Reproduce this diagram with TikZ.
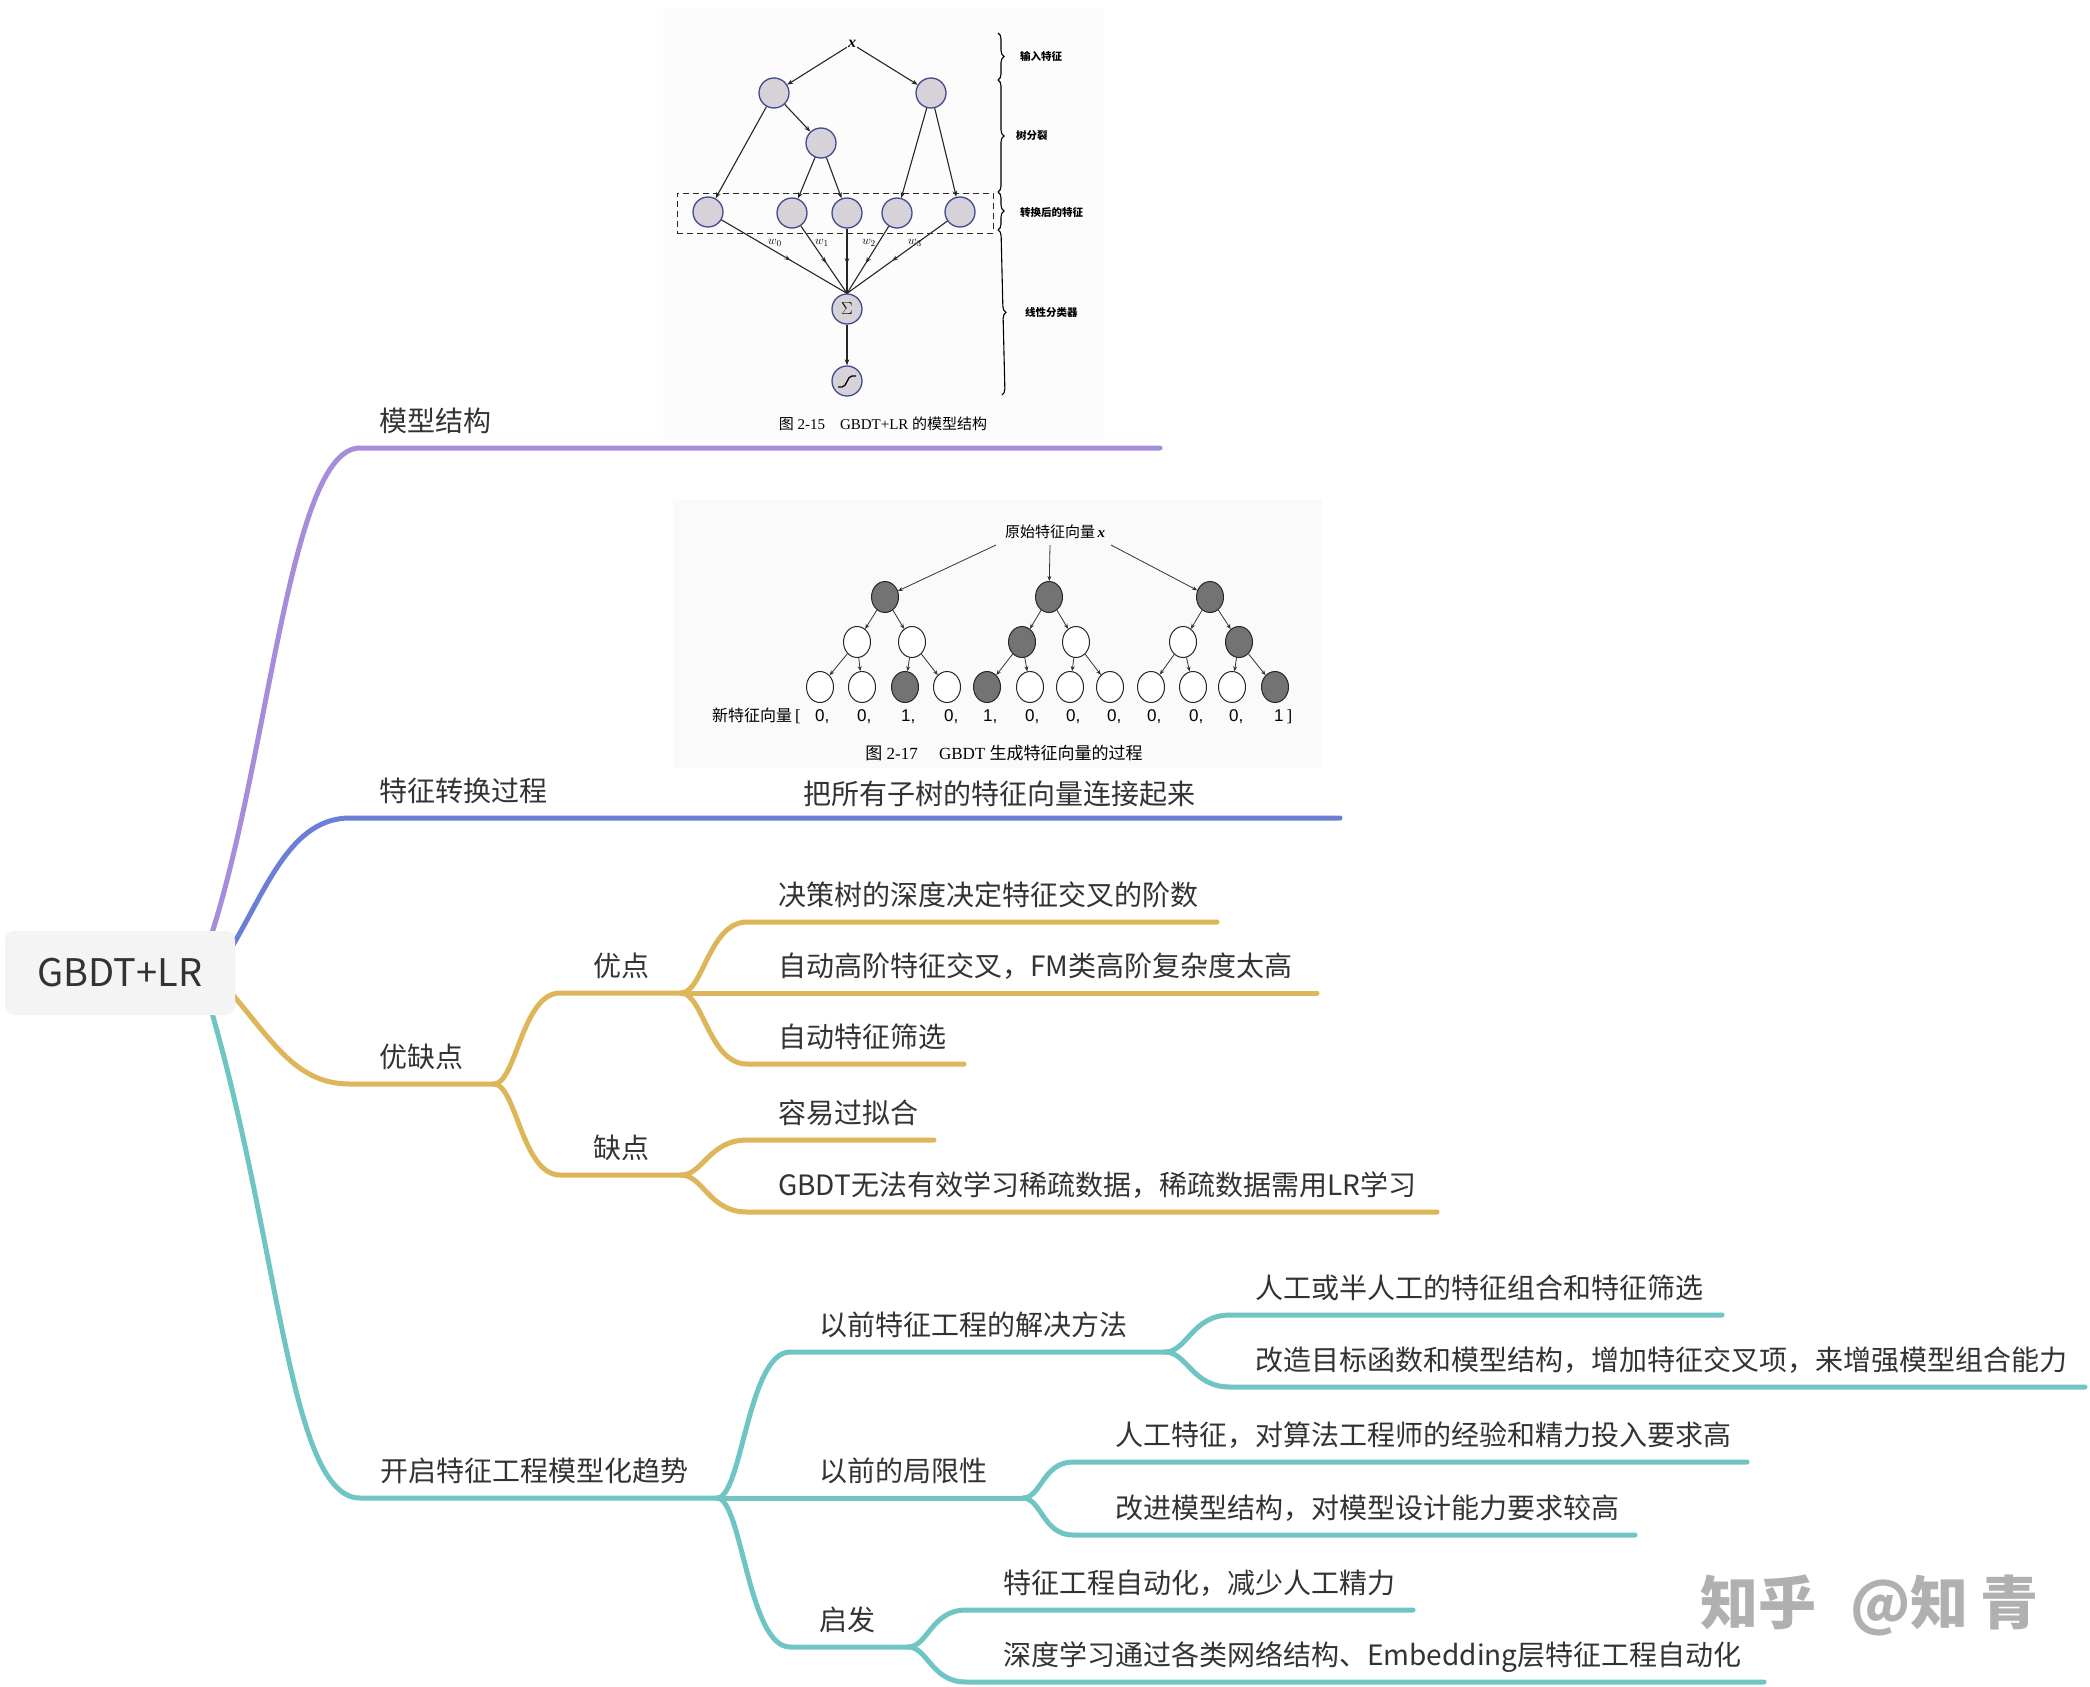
\documentclass[tikz,border=0pt]{standalone}
\usepackage{fontspec}
\setmainfont{Liberation Serif}
\newfontfamily\cjk{Noto Sans CJK SC}
\newfontfamily\arialf{Liberation Sans}
\usetikzlibrary{arrows.meta,decorations.markings,decorations.pathreplacing,shapes.geometric}
\definecolor{cPur}{HTML}{A68CDB}
\definecolor{cBlu}{HTML}{6B7FD6}
\definecolor{cYel}{HTML}{DEB65A}
\definecolor{cTea}{HTML}{6EC5C4}
\definecolor{txt}{HTML}{333333}
\definecolor{rootfill}{HTML}{F4F4F5}
\definecolor{fnb}{HTML}{3F4C8F}
\definecolor{fnf}{HTML}{D6D2D7}
\definecolor{figbgA}{HTML}{FCFCFC}
\definecolor{figbgB}{HTML}{FAFAFA}
\definecolor{wmc}{HTML}{B0B0B0}
\newcommand\myfs[1]{\fontsize{#1}{#1}\selectfont}
\begin{document}
\begin{tikzpicture}[x=1pt,y=-1pt,
  br/.style={line width=5pt, line cap=round, line join=round},
  cP/.style={br, draw=cPur}, cB/.style={br, draw=cBlu},
  cY/.style={br, draw=cYel}, cT/.style={br, draw=cTea},
  topic/.style={anchor=base west, inner sep=0pt, text=txt, font=\cjk\myfs{28}},
  fnode/.style={circle, minimum size=30pt, inner sep=0pt, draw=fnb, fill=fnf, line width=1.3pt},
  farr/.style={-{Stealth[length=6pt,width=4.5pt]}, line width=1.1pt, draw=black!85},
  fmid/.style={line width=1.1pt, draw=black!85, postaction={decorate},
    decoration={markings, mark=at position 0.55 with {\arrow{Stealth[length=6pt,width=4.5pt]}}}},
  fbrace/.style={decorate, decoration={brace, amplitude=6pt}, line width=1.1pt},
  flab/.style={anchor=west, inner sep=0pt, font=\cjk\bfseries\myfs{10.5}},
  tnode/.style={ellipse, minimum width=27pt, minimum height=31pt, inner sep=0pt, draw=black!85, line width=1pt, fill=white},
  tdark/.style={tnode, fill=black!55},
  tarr/.style={-{Stealth[length=5pt,width=4pt]}, line width=0.8pt, draw=black!80},
  vnum/.style={anchor=base west, inner sep=0pt, font=\arialf\myfs{17}},
]
\useasboundingbox (0,0) rectangle (2090,1686);
\fill[white] (0,0) rectangle (2090,1686);
% figure backgrounds (scanned images)
\fill[figbgA] (663,8) rectangle (1103,442);
\fill[figbgB] (673,500) rectangle (1322,768);

% ---------- mind map branches ----------
\coordinate (rP) at (212,933);
\coordinate (rB) at (233,945);
\coordinate (rY) at (233,995);
\coordinate (rT) at (212,1013);
\coordinate (p1a) at (360,448); \coordinate (p1b) at (1160,448);
\coordinate (b1a) at (350,818); \coordinate (b1b) at (1340,818);
\coordinate (y1a) at (350,1084); \coordinate (yF) at (494,1084);
\coordinate (t1a) at (360,1498); \coordinate (tF) at (717,1498);

\draw[cP] (rP) .. controls (270,750) and (290,448) .. (p1a) -- (p1b);
\draw[cB] (rB) .. controls (268,885) and (292,818) .. (b1a) -- (b1b);
\draw[cY] (rY) .. controls (275,1045) and (298,1084) .. (y1a) -- (yF);
\draw[cT] (rT) .. controls (280,1250) and (290,1498) .. (t1a) -- (tF);

% yellow level 2 / 3
\coordinate (yA) at (560,993); \coordinate (yF2) at (681,993);
\coordinate (yB) at (560,1175); \coordinate (yF3) at (681,1175);
\draw[cY] (yF) .. controls +(22,0) and +(-38,0) .. (yA) -- (yF2);
\draw[cY] (yF) .. controls +(22,0) and +(-38,0) .. (yB) -- (yF3);
\coordinate (y11) at (747,922); \coordinate (y11e) at (1217,922);
\coordinate (y12e) at (1317,993);
\coordinate (y13) at (747,1064); \coordinate (y13e) at (964,1064);
\coordinate (y21) at (747,1140); \coordinate (y21e) at (934,1140);
\coordinate (y22) at (747,1212); \coordinate (y22e) at (1437,1212);
\draw[cY] (yF2) .. controls +(22,0) and +(-38,0) .. (y11) -- (y11e);
\draw[cY] (yF2) -- (y12e);
\draw[cY] (yF2) .. controls +(22,0) and +(-38,0) .. (y13) -- (y13e);
\draw[cY] (yF3) .. controls +(22,0) and +(-38,0) .. (y21) -- (y21e);
\draw[cY] (yF3) .. controls +(22,0) and +(-38,0) .. (y22) -- (y22e);

% teal level 2 / 3
\coordinate (tA) at (790,1352); \coordinate (tF2) at (1165,1352);
\coordinate (tF3) at (1023,1498);
\coordinate (tC) at (790,1647); \coordinate (tF4) at (908,1647);
\draw[cT] (tF) .. controls +(25,0) and +(-42,0) .. (tA) -- (tF2);
\draw[cT] (tF) -- (tF3);
\draw[cT] (tF) .. controls +(25,0) and +(-42,0) .. (tC) -- (tF4);
\coordinate (t11) at (1230,1315); \coordinate (t11e) at (1722,1315);
\coordinate (t12) at (1230,1387); \coordinate (t12e) at (2085,1387);
\coordinate (t21) at (1073,1462); \coordinate (t21e) at (1747,1462);
\coordinate (t22) at (1073,1535); \coordinate (t22e) at (1635,1535);
\coordinate (t31) at (966,1610); \coordinate (t31e) at (1413,1610);
\coordinate (t32) at (966,1682); \coordinate (t32e) at (1764,1682);
\draw[cT] (tF2) .. controls +(22,0) and +(-38,0) .. (t11) -- (t11e);
\draw[cT] (tF2) .. controls +(22,0) and +(-38,0) .. (t12) -- (t12e);
\draw[cT] (tF3) .. controls +(18,0) and +(-30,0) .. (t21) -- (t21e);
\draw[cT] (tF3) .. controls +(18,0) and +(-30,0) .. (t22) -- (t22e);
\draw[cT] (tF4) .. controls +(20,0) and +(-35,0) .. (t31) -- (t31e);
\draw[cT] (tF4) .. controls +(20,0) and +(-35,0) .. (t32) -- (t32e);

% root
\node[fill=rootfill, rounded corners=9pt, minimum width=230pt, minimum height=84pt, inner sep=0pt,
  text=txt, font=\cjk\myfs{38}] (root) at (120,973) {GBDT+LR};

% topics
\node[topic] (n1) at (379,431.6) {模型结构};
\node[topic] (n2) at (379,801.6) {特征转换过程};
\node[topic] (n2b) at (803,804.6) {把所有子树的特征向量连接起来};
\node[topic] (n3) at (379,1067.6) {优缺点};
\node[topic] (n4) at (380,1481.6) {开启特征工程模型化趋势};
\node[topic] (n31) at (593,976.6) {优点};
\node[topic] (n32) at (593,1158.6) {缺点};
\node[topic] (n311) at (778,905.6) {决策树的深度决定特征交叉的阶数};
\node[topic] (n312) at (778,976.6) {自动高阶特征交叉，FM类高阶复杂度太高};
\node[topic] (n313) at (778,1047.6) {自动特征筛选};
\node[topic] (n321) at (778,1123.6) {容易过拟合};
\node[topic] (n322) at (778,1195.6) {GBDT无法有效学习稀疏数据，稀疏数据需用LR学习};
\node[topic] (n41) at (819,1335.6) {以前特征工程的解决方法};
\node[topic] (n42) at (819,1481.6) {以前的局限性};
\node[topic] (n43) at (819,1630.6) {启发};
\node[topic] (n411) at (1255,1298.6) {人工或半人工的特征组合和特征筛选};
\node[topic] (n412) at (1255,1370.6) {改造目标函数和模型结构，增加特征交叉项，来增强模型组合能力};
\node[topic] (n421) at (1115,1445.6) {人工特征，对算法工程师的经验和精力投入要求高};
\node[topic] (n422) at (1115,1518.6) {改进模型结构，对模型设计能力要求较高};
\node[topic] (n431) at (1003,1593.6) {特征工程自动化，减少人工精力};
\node[topic] (n432) at (1003,1665.6) {深度学习通过各类网络结构、Embedding层特征工程自动化};

% ---------- figure 2-15 ----------
\node[inner sep=1pt, font=\myfs{16}\bfseries\itshape] (xin) at (852,44) {x};
\node[fnode] (a1) at (774,93) {};
\node[fnode] (a2) at (931,93) {};
\node[fnode] (a3) at (821,143) {};
\node[draw=black!85, dashed, dash pattern=on 6pt off 4pt, line width=1pt, minimum width=316pt, minimum height=40pt, inner sep=0pt] (dbox) at (835,213) {};
\node[fnode] (b1) at (708,212) {};
\node[fnode] (b2) at (792,213) {};
\node[fnode] (b3) at (847,213) {};
\node[fnode] (b4) at (897,213) {};
\node[fnode] (b5) at (960,212) {};
\node[fnode, font=\myfs{16}] (sig) at (847,309) {$\Sigma$};
\node[fnode] (sgm) at (847,381) {};
\draw[line width=1.3pt] (838,387) -- (842,387) .. controls (847,387) and (847,376) .. (852,376) -- (856,376);
\draw[farr] (xin) -- (a1);
\draw[farr] (xin) -- (a2);
\draw[farr] (a1) -- (b1);
\draw[farr] (a1) -- (a3);
\draw[farr] (a3) -- (b2);
\draw[farr] (a3) -- (b3);
\draw[farr] (a2) -- (b4);
\draw[farr] (a2) -- (b5);
\draw[fmid] (b1) -- (sig.north);
\draw[fmid] (b2) -- (sig.north);
\draw[fmid] (b3) -- (sig.north);
\draw[fmid] (b4) -- (sig.north);
\draw[fmid] (b5) -- (sig.north);
\draw[farr] (sig) -- (sgm);
\node[font=\myfs{13}] (w0) at (775,243) {$w_0$};
\node[font=\myfs{13}] (w1) at (822,243) {$w_1$};
\node[font=\myfs{13}] (w2) at (869,243) {$w_2$};
\node[font=\myfs{13}] (w3) at (915,243) {$w_3$};
\coordinate (br0) at (998,33); \coordinate (br1) at (998,80);
\coordinate (br2) at (998,192); \coordinate (br3) at (998,230);
\coordinate (br4) at (1002,395);
\draw[fbrace] (br0) -- (br1);
\draw[fbrace] (br1) -- (br2);
\draw[fbrace] (br2) -- (br3);
\draw[fbrace] (br3) -- (br4);
\node[flab] (l1) at (1020,56) {输入特征};
\node[flab] (l2) at (1016,136) {树分裂};
\node[flab] (l3) at (1020,213) {转换后的特征};
\node[flab] (l4) at (1025,312) {线性分类器};
\node[font=\myfs{15}] (cap1) at (883,424) {{\cjk 图} 2-15\quad GBDT+LR {\cjk 的模型结构}};

% ---------- figure 2-17 ----------
\node[anchor=base west, inner sep=0pt, font=\cjk\myfs{15}] (orig) at (1005,537) {原始特征向量\,{\rmfamily\bfseries\itshape x}};
\node[tdark] (r1) at (885,597) {};
\node[tdark] (r2) at (1049,597) {};
\node[tdark] (r3) at (1210,597) {};
\node[tnode] (u1) at (857,642) {};
\node[tnode] (u2) at (912,642) {};
\node[tdark] (u3) at (1022,642) {};
\node[tnode] (u4) at (1076,642) {};
\node[tnode] (u5) at (1183,642) {};
\node[tdark] (u6) at (1239,642) {};
\node[tnode] (v1) at (820,687) {};
\node[tnode] (v2) at (862,687) {};
\node[tdark] (v3) at (905,687) {};
\node[tnode] (v4) at (947,687) {};
\node[tdark] (v5) at (987,687) {};
\node[tnode] (v6) at (1030,687) {};
\node[tnode] (v7) at (1070,687) {};
\node[tnode] (v8) at (1110,687) {};
\node[tnode] (v9) at (1151,687) {};
\node[tnode] (v10) at (1193,687) {};
\node[tnode] (v11) at (1232,687) {};
\node[tdark] (v12) at (1275,687) {};
\coordinate (o1) at (996,545); \coordinate (o2) at (1050,545); \coordinate (o3) at (1111,545);
\draw[tarr] (o1) -- (r1);
\draw[tarr] (o2) -- (r2);
\draw[tarr] (o3) -- (r3);
\draw[tarr] (r1) -- (u1); \draw[tarr] (r1) -- (u2);
\draw[tarr] (r2) -- (u3); \draw[tarr] (r2) -- (u4);
\draw[tarr] (r3) -- (u5); \draw[tarr] (r3) -- (u6);
\draw[tarr] (u1) -- (v1); \draw[tarr] (u1) -- (v2);
\draw[tarr] (u2) -- (v3); \draw[tarr] (u2) -- (v4);
\draw[tarr] (u3) -- (v5); \draw[tarr] (u3) -- (v6);
\draw[tarr] (u4) -- (v7); \draw[tarr] (u4) -- (v8);
\draw[tarr] (u5) -- (v9); \draw[tarr] (u5) -- (v10);
\draw[tarr] (u6) -- (v11); \draw[tarr] (u6) -- (v12);
\node[anchor=base west, inner sep=0pt, font=\myfs{17}] (newv) at (712,721) {{\cjk\myfs{16}新特征向量}\,[};
\node[vnum] (q1) at (815,721) {0,};
\node[vnum] (q2) at (857,721) {0,};
\node[vnum] (q3) at (901,721) {1,};
\node[vnum] (q4) at (944,721) {0,};
\node[vnum] (q5) at (983,721) {1,};
\node[vnum] (q6) at (1025,721) {0,};
\node[vnum] (q7) at (1066,721) {0,};
\node[vnum] (q8) at (1107,721) {0,};
\node[vnum] (q9) at (1147,721) {0,};
\node[vnum] (q10) at (1189,721) {0,};
\node[vnum] (q11) at (1229,721) {0,};
\node[vnum] (q12) at (1274,721) {1\,\rmfamily ]};
\node[font=\myfs{17}] (cap2) at (1004,753) {{\cjk 图} 2-17\quad\ GBDT {\cjk 生成特征向量的过程}};

% watermark
\node[anchor=base west, inner sep=0pt, text=wmc, font=\cjk\bfseries\myfs{58}] (wm1) at (1700,1624) {知乎};
\node[anchor=base west, inner sep=0pt, text=wmc, font=\cjk\bfseries\myfs{58}] (wm2) at (1850,1624) {@知};
\node[anchor=base west, inner sep=0pt, text=wmc, font=\cjk\bfseries\myfs{58}] (wm3) at (1980,1624) {青};
\end{tikzpicture}
\end{document}
